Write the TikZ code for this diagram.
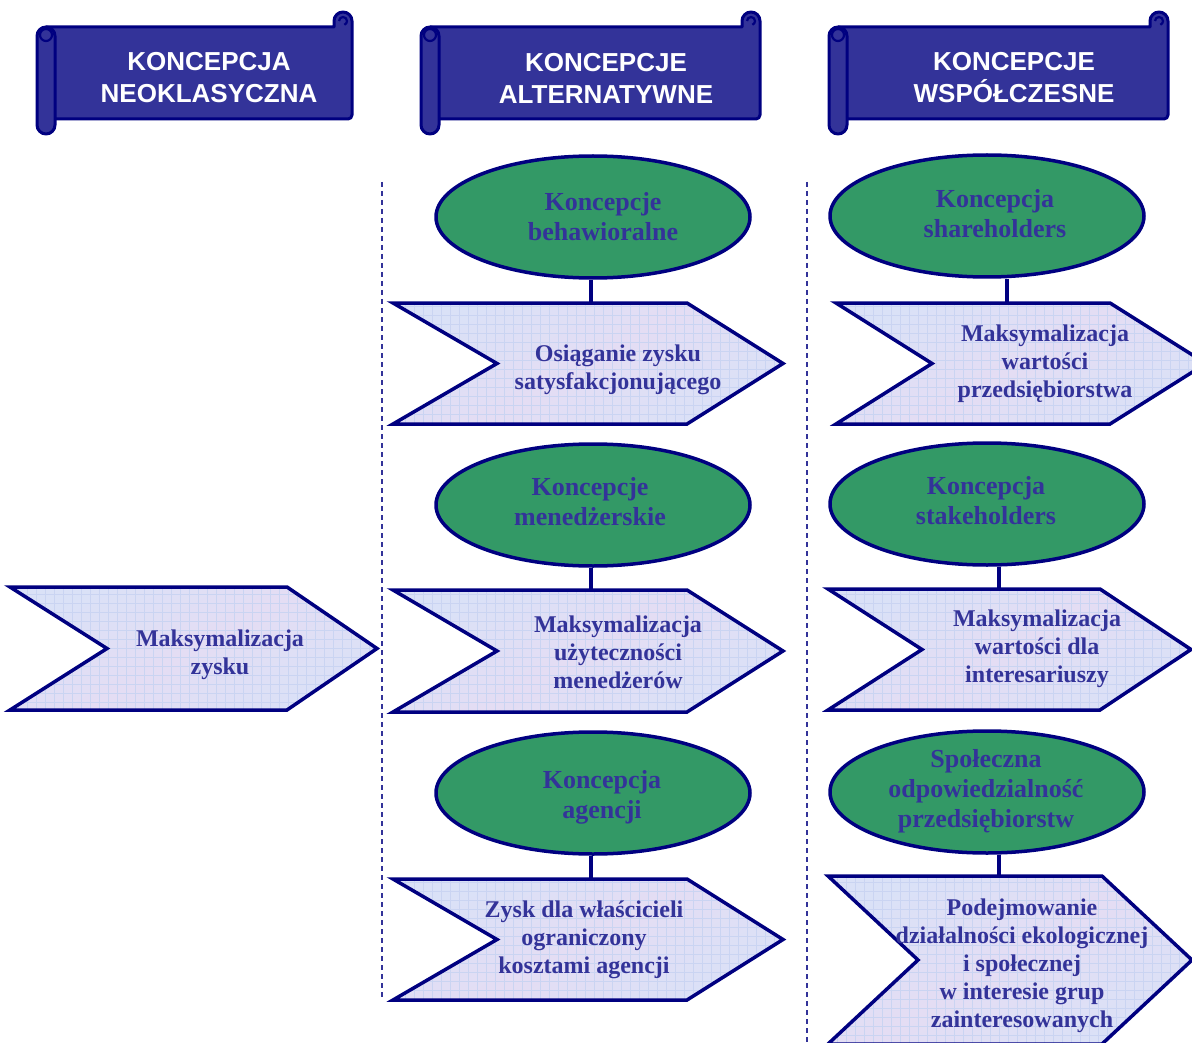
\documentclass[tikz,border=0pt]{standalone}
\usepackage{fontspec}
\setmainfont{Liberation Serif}
\newfontfamily\headfont{Liberation Sans}
\usetikzlibrary{shapes.geometric}

\definecolor{navy}{HTML}{000080}
\definecolor{scrollblue}{HTML}{333399}
\definecolor{ovalgreen}{HTML}{339966}
\definecolor{inktext}{HTML}{333399}
\definecolor{paper}{HTML}{DAE1F7}
\definecolor{paperline}{HTML}{CAD4F2}
\definecolor{papertint}{HTML}{E4DDF4}

\tikzset{
  scroll/.style={fill=scrollblue, draw=navy, line width=3pt, line join=round},
  curl/.style={draw=navy, line width=2.2pt},
  oval/.style={ellipse, fill=ovalgreen, draw=navy, line width=3.5pt,
    minimum width=314pt, minimum height=122pt, inner sep=0pt},
  ovaltext/.style={text=inktext, font=\fontsize{26}{30}\selectfont\bfseries,
    align=center, inner sep=0pt},
  chevtext/.style={text=inktext, font=\fontsize{24}{28}\selectfont\bfseries,
    align=center, inner sep=0pt},
  headtext/.style={text=white, font=\headfont\fontsize{26}{32}\selectfont\bfseries,
    align=center, inner sep=0pt},
  chevborder/.style={draw=navy, line width=3.5pt, line join=miter},
  link/.style={draw=navy, line width=3.5pt},
  divider/.style={draw=navy!80!white, line width=1.5pt, dash pattern=on 5pt off 4pt},
}

% horizontal scroll banner between x = #1 and x = #2
\newcommand\scrollbanner[2]{%
  \filldraw[scroll] ({#1+9},27) -- ({#2-18},27) -- ({#2-18},21)
    arc[start angle=180,end angle=360,radius=9] -- (#2,115)
    arc[start angle=0,end angle=90,radius=4] -- ({#1+9},119) -- cycle;
  \draw[curl] ({#2-13},21) arc[start angle=180,end angle=430,radius=4];
  \filldraw[scroll, rounded corners=9pt] (#1,27) rectangle ({#1+18},134);
  \draw[curl] ({#1+9},35) circle[radius=6];
}

% textured chevron: left, top, bottom, right corner, tip, notch
\newcommand\chevron[6]{%
  \begin{scope}
    \clip ({#1},{#2}) -- ({#4},{#2}) -- ({#5},{(#2+#3)/2}) -- ({#4},{#3})
      -- ({#1},{#3}) -- ({#6},{(#2+#3)/2}) -- cycle;
    \shade[left color=paper, right color=paper, middle color=papertint,
      shading angle=30] ({#1},{#2}) rectangle ({#5},{#3});
    \draw[paperline, line width=0.6pt, step=9pt] ({#1},{#3}) grid ({#5},{#2});
  \end{scope}
  \draw[chevborder] ({#1},{#2}) -- ({#4},{#2}) -- ({#5},{(#2+#3)/2}) -- ({#4},{#3})
      -- ({#1},{#3}) -- ({#6},{(#2+#3)/2}) -- cycle;
}

\begin{document}
\begin{tikzpicture}[x=1pt,y=-1pt]
  \useasboundingbox (0,0) rectangle (1192,1043);
  \fill[white] (0,0) rectangle (1192,1043);
  \clip (0,0) rectangle (1192,1043);

  % column headings
  \scrollbanner{37}{352}
  \scrollbanner{421}{760}
  \scrollbanner{829}{1168}
  \node[headtext] (h1) at (209,78) {KONCEPCJA\\NEOKLASYCZNA};
  \node[headtext] (h2) at (606,78) {KONCEPCJE\\ALTERNATYWNE};
  \node[headtext] (h3) at (1014,78) {KONCEPCJE\\WSPÓŁCZESNE};

  % column separators
  \draw[divider] (382,182) -- (382,998);
  \draw[divider] (807,182) -- (807,1043);

  % concept ovals
  \node[oval] (e1) at (593,217) {};
  \node[oval] (e2) at (593,505) {};
  \node[oval] (e3) at (593,793) {};
  \node[oval] (e4) at (987,216) {};
  \node[oval] (e5) at (987,504) {};
  \node[oval] (e6) at (987,792) {};

  % chevron tops
  \coordinate (k1) at (591,303);
  \coordinate (k2) at (591,590);
  \coordinate (k3) at (591,879);
  \coordinate (k4) at (1007,303);
  \coordinate (k5) at (999,589);
  \coordinate (k6) at (999,876);

  \draw[link] (e1.south -| k1) -- (k1);
  \draw[link] (e2.south -| k2) -- (k2);
  \draw[link] (e3.south -| k3) -- (k3);
  \draw[link] (e4.south -| k4) -- (k4);
  \draw[link] (e5.south -| k5) -- (k5);
  \draw[link] (e6.south -| k6) -- (k6);

  % goal chevrons
  \chevron{10}{587}{710}{287}{377}{107}
  \chevron{393}{303}{424}{687}{783}{497}
  \chevron{393}{590}{712}{687}{783}{497}
  \chevron{393}{879}{1000}{687}{783}{497}
  \chevron{836}{303}{424}{1110}{1206}{932}
  \chevron{828}{589}{710}{1100}{1191}{922}
  \chevron{828}{876}{1044}{1102}{1192}{918}

  % oval labels
  \node[ovaltext] (t1) at (603,217) {Koncepcje\\behawioralne};
  \node[ovaltext] (t2) at (590,502) {Koncepcje\\menedżerskie};
  \node[ovaltext] (t3) at (602,797) {Koncepcja\\agencji};
  \node[ovaltext] (t4) at (995,214) {Koncepcja\\shareholders};
  \node[ovaltext] (t5) at (986,501) {Koncepcja\\stakeholders};
  \node[ovaltext] (t6) at (986,791) {Społeczna\\odpowiedzialność\\przedsiębiorstw};

  % chevron labels
  \node[chevtext] (m0) at (220,655) {Maksymalizacja\\zysku};
  \node[chevtext] (m1) at (618,370) {Osiąganie zysku\\satysfakcjonującego};
  \node[chevtext] (m2) at (618,652) {Maksymalizacja\\użyteczności\\menedżerów};
  \node[chevtext] (m3) at (584,940) {Zysk dla właścicieli\\ograniczony\\kosztami agencji};
  \node[chevtext] (m4) at (1045,364) {Maksymalizacja\\wartości\\przedsiębiorstwa};
  \node[chevtext] (m5) at (1037,649) {Maksymalizacja\\wartości dla\\interesariuszy};
  \node[chevtext] (m6) at (1022,966) {Podejmowanie\\działalności ekologicznej\\i społecznej\\w interesie grup\\zainteresowanych};
\end{tikzpicture}
\end{document}
